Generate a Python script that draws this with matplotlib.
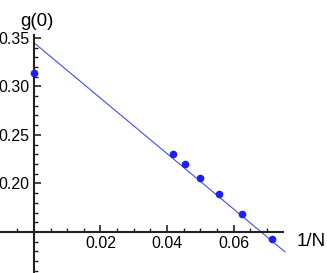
import matplotlib
matplotlib.use("Agg")
import matplotlib.pyplot as plt
import numpy as np
from matplotlib.ticker import FixedLocator

plt.rcParams['font.family'] = ['Liberation Sans', 'DejaVu Sans']

inv_N = [0.0, 1/24, 1/22, 1/20, 1/18, 1/16, 1/14]
g0 = [0.314, 0.2305, 0.2198, 0.206, 0.1895, 0.1686, 0.1428]
fit_intercept = 0.345
fit_slope = -2.856
fit_range = [0.0, 0.0755]

xticks = [0.02, 0.04, 0.06]
yticks = [0.20, 0.25, 0.30, 0.35]

fig = plt.figure(figsize=(3.27, 2.73), dpi=100)
ax = fig.add_axes([0, 0, 1, 1])
ax.patch.set_alpha(0)

xf = np.array(fit_range)
ax.plot(xf, fit_intercept + fit_slope * xf, color='#3f4ff0', lw=0.8, clip_on=False)
ax.plot(inv_N, g0, 'o', color='#2020ee', ms=4.5, clip_on=False, zorder=5)

ax.set_xlim(-0.0102, 0.0881)
ax.set_ylim(0.1077, 0.389)
for s in ['top', 'right']:
    ax.spines[s].set_visible(False)
ax.spines['left'].set_position(('data', 0))
ax.spines['bottom'].set_position(('data', 0.15))
ax.spines['left'].set_bounds(0.1077, 0.353)
ax.spines['bottom'].set_bounds(-0.0102, 0.0749)
for s in ['left', 'bottom']:
    ax.spines[s].set_linewidth(1.5)
    ax.spines[s].set_color('#222222')

ax.xaxis.set_major_locator(FixedLocator(xticks))
ax.yaxis.set_major_locator(FixedLocator(yticks))
ax.xaxis.set_minor_locator(FixedLocator([-0.005] + [i * 0.005 for i in range(1, 15) if i % 4 != 0]))
ax.yaxis.set_minor_locator(FixedLocator([round(0.11 + i * 0.01, 3) for i in range(25) if round(0.11 + i * 0.01, 3) not in yticks and abs(0.11 + i * 0.01 - 0.15) > 1e-6]))
ax.set_xticklabels(['0.02', '0.04', '0.06'])
ax.set_yticklabels(['0.20', '0.25', '0.30', '0.35'])
ax.tick_params(which='major', direction='in', length=5, width=1.2, color='#222222', labelsize=11.5)
ax.tick_params(which='minor', direction='in', length=3, width=1.0, color='#222222')
ax.tick_params(axis='x', pad=3)
ax.tick_params(axis='y', pad=3)

ax.text(0.001, 0.358, 'g(0)', ha='center', va='bottom', fontsize=13.5)
ax.text(0.0791, 0.1405, '1/N', ha='left', va='center', fontsize=13.5)

fig.savefig('out.png', dpi=100)
